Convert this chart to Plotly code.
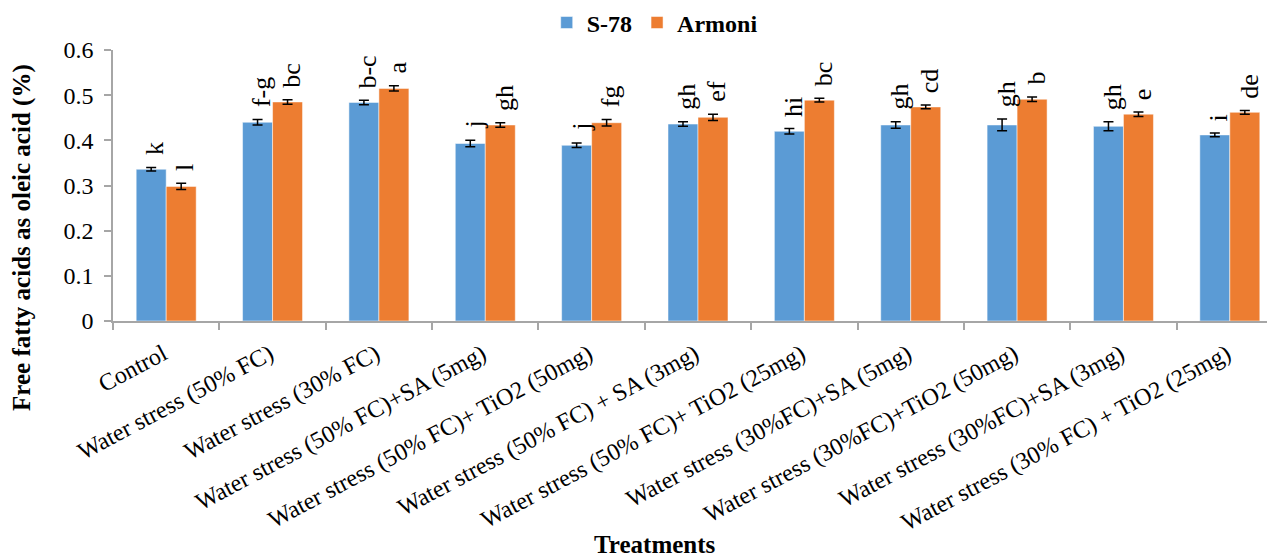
import plotly.graph_objects as go

categories = [
    "Control",
    "Water stress (50% FC)",
    "Water stress (30% FC)",
    "Water stress (50% FC)+SA (5mg)",
    "Water stress (50% FC)+ TiO2 (50mg)",
    "Water stress (50% FC) + SA (3mg)",
    "Water stress (50% FC)+ TiO2 (25mg)",
    "Water stress (30%FC)+SA (5mg)",
    "Water stress (30%FC)+TiO2 (50mg)",
    "Water stress (30%FC)+SA (3mg)",
    "Water stress (30% FC) + TiO2 (25mg)",
]
s78 = [0.336, 0.440, 0.484, 0.393, 0.389, 0.436, 0.420, 0.434, 0.434, 0.431, 0.412]
s78_err = [0.004, 0.006, 0.005, 0.007, 0.005, 0.005, 0.006, 0.007, 0.013, 0.010, 0.004]
s78_letters = ["k", "f-g", "b-c", "j", "j", "gh", "hi", "gh", "gh", "gh", "i"]
armoni = [0.298, 0.485, 0.515, 0.434, 0.439, 0.451, 0.489, 0.474, 0.491, 0.458, 0.462]
armoni_err = [0.007, 0.005, 0.006, 0.005, 0.007, 0.007, 0.004, 0.004, 0.005, 0.005, 0.004]
armoni_letters = ["l", "bc", "a", "gh", "fg", "ef", "bc", "cd", "b", "e", "de"]

FONT = "Liberation Serif"
BLUE = "#5B9BD5"
ORANGE = "#ED7D31"
AXIS = "#A6A6A6"

fig = go.Figure()
for name, vals, errs, col in [("S-78", s78, s78_err, BLUE), ("Armoni", armoni, armoni_err, ORANGE)]:
    fig.add_trace(go.Bar(
        name=name, x=categories, y=vals, marker=dict(color=col, line=dict(color="white", width=0.5)),
        error_y=dict(type="data", array=errs, visible=True, color="black", thickness=1.5, width=5),
    ))

half = 0.141
annotations = []
for i in range(len(categories)):
    for off, vals, errs, letters in [(-half, s78, s78_err, s78_letters), (half, armoni, armoni_err, armoni_letters)]:
        annotations.append(dict(
            x=i + off, y=vals[i] + errs[i], xref="x", yref="y", text=letters[i], showarrow=False,
            textangle=-90, yanchor="bottom", xanchor="center", yshift=10, xshift=4,
            font=dict(family=FONT, size=26, color="black"),
        ))

annotations.append(dict(
    x=-0.0778, y=0.31, xref="paper", yref="paper", text="<b>Free fatty acids as oleic acid (%)</b>",
    showarrow=False, textangle=-90, xanchor="center", yanchor="middle",
    font=dict(family=FONT, size=25, color="black"),
))
annotations.append(dict(
    x=0.463, y=-0.826, xref="paper", yref="paper", text="<b>Treatments</b>",
    showarrow=False, xanchor="center", yanchor="middle",
    font=dict(family=FONT, size=25, color="black"),
))

fig.update_layout(
    width=1275, height=557,
    margin=dict(l=105, r=0, t=42, b=244, autoexpand=False),
    paper_bgcolor="white", plot_bgcolor="white",
    barmode="group", bargap=0.436, bargroupgap=0,
    font=dict(family=FONT, size=24, color="black"),
    showlegend=True,
    legend=dict(orientation="h", x=0.463, y=1.10, xanchor="center", yanchor="middle",
                font=dict(family=FONT, size=24, color="black", weight="bold"),
                itemwidth=30, traceorder="normal"),
    annotations=annotations,
    xaxis=dict(
        type="category", range=[-0.5, 10.5], tickson="boundaries", ticks="outside", ticklen=7,
        tickcolor=AXIS, tickwidth=1.5, showline=True, linecolor=AXIS, linewidth=1.5,
        tickangle=-28, showgrid=False, automargin=False, ticklabelshift=-3, ticklabelstandoff=8,
        tickfont=dict(family=FONT, size=24, color="black"),
    ),
    yaxis=dict(
        range=[0, 0.6], dtick=0.1, tick0=0, ticks="outside", ticklen=7, tickcolor=AXIS, tickwidth=1.5,
        showline=True, linecolor=AXIS, linewidth=1.5, showgrid=False, zeroline=False, automargin=False,
        tickformat="~g", ticklabelstandoff=6, tickfont=dict(family=FONT, size=24, color="black"),
    ),
)

fig.write_html("out.html")
